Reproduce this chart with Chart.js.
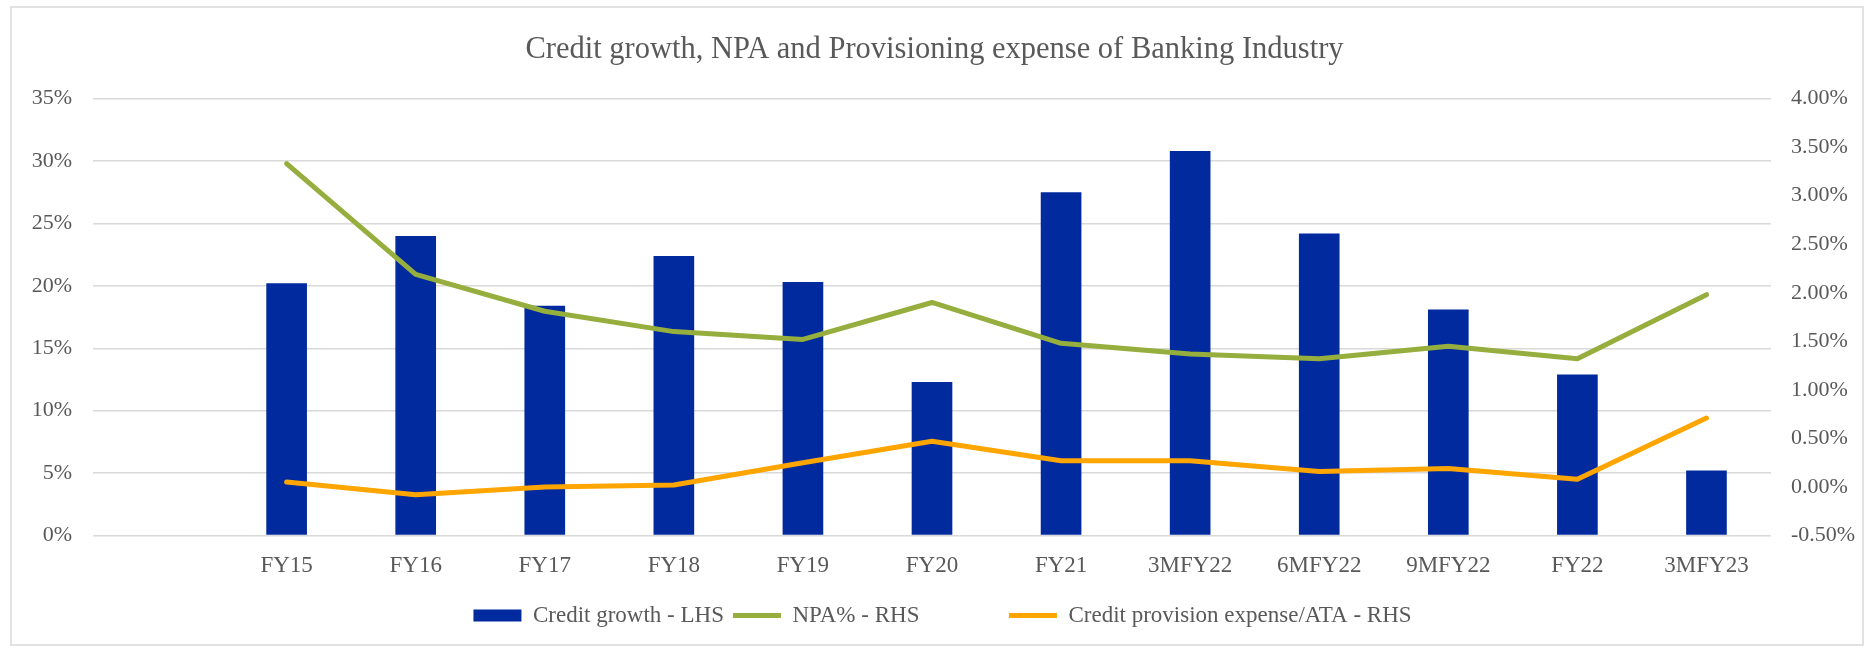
<!DOCTYPE html>
<html>
<head>
<meta charset="utf-8">
<title>Credit growth, NPA and Provisioning expense</title>
<script src="https://cdn.jsdelivr.net/npm/chart.js@4.4.1/dist/chart.umd.min.js"></script>
<style>
  html, body { margin: 0; padding: 0; background: #fff; }
  #wrap { position: relative; width: 1869px; height: 648px; }
</style>
</head>
<body>
<div id="wrap"><canvas id="bankChart" width="1869" height="648"></canvas></div>
<script>
// Categories (first slot is left empty on purpose)
const categories = ["", "FY15", "FY16", "FY17", "FY18", "FY19", "FY20", "FY21", "3MFY22", "6MFY22", "9MFY22", "FY22", "3MFY23"];

// Series, in percent
const creditGrowth = [null, 20.2, 24.0, 18.4, 22.4, 20.3, 12.3, 27.5, 30.8, 24.2, 18.1, 12.9, 5.2];
const npaRatio = [null, 3.33, 2.19, 1.81, 1.60, 1.52, 1.90, 1.48, 1.37, 1.32, 1.45, 1.32, 1.98];
const provisionExpense = [null, 0.05, -0.08, 0.00, 0.02, 0.25, 0.47, 0.27, 0.27, 0.16, 0.19, 0.08, 0.71];

// Axis ranges
const lhsTicks = [0, 5, 10, 15, 20, 25, 30, 35];
const rhsTicks = [-0.5, 0, 0.5, 1, 1.5, 2, 2.5, 3, 3.5, 4];

const textColor = "#595959";
const serif = "'Liberation Serif', 'Times New Roman', serif";

// Outer frame around the whole chart, legend nudged a little right
const framePlugin = {
    id: "frame",
    afterLayout(chart) {
        chart.legend.left += 8;
        chart.legend.right += 8;
    },
    beforeDraw(chart) {
        const ctx = chart.ctx;
        ctx.save();
        ctx.fillStyle = "#fff";
        ctx.fillRect(0, 0, chart.width, chart.height);
        ctx.strokeStyle = "#d9d9d9";
        ctx.lineWidth = 1.5;
        ctx.strokeRect(11, 7, 1852, 638);
        ctx.restore();
    }
};

// legend order: bars first, then the two lines
const legendRank = [1, 2, 0];

new Chart(document.getElementById("bankChart"), {
    type: "bar",
    data: {
        labels: categories,
        datasets: [
            {
                type: "line",
                label: "NPA% - RHS",
                data: npaRatio,
                yAxisID: "y1",
                borderColor: "#95AE3E",
                backgroundColor: "#95AE3E",
                borderWidth: 5,
                pointRadius: 0,
                borderCapStyle: "round",
                borderJoinStyle: "round",
                tension: 0
            },
            {
                type: "line",
                label: "Credit provision expense/ATA - RHS",
                data: provisionExpense,
                yAxisID: "y1",
                borderColor: "#FFA500",
                backgroundColor: "#FFA500",
                borderWidth: 5,
                pointRadius: 0,
                borderCapStyle: "round",
                borderJoinStyle: "round",
                tension: 0
            },
            {
                type: "bar",
                label: "Credit growth - LHS",
                data: creditGrowth,
                yAxisID: "y",
                backgroundColor: "#002A9E",
                borderWidth: 0,
                categoryPercentage: 1,
                barPercentage: 0.315
            }
        ]
    },
    options: {
        responsive: false,
        animation: false,
        layout: { padding: { top: 0, bottom: 11, left: 0, right: 0 } },
        plugins: {
            title: {
                display: true,
                text: "Credit growth, NPA and Provisioning expense of Banking Industry",
                color: textColor,
                font: { family: serif, size: 30.5, weight: "normal" },
                padding: { top: 32, bottom: 30 }
            },
            legend: {
                position: "bottom",
                labels: {
                    color: textColor,
                    font: { family: serif, size: 23 },
                    usePointStyle: true,
                    pointStyleWidth: 48,
                    boxHeight: 12,
                    padding: 9,
                    generateLabels(chart) {
                        return Chart.defaults.plugins.legend.labels.generateLabels(chart).map(item => ({
                            ...item,
                            // wider slot after the NPA entry
                            text: item.datasetIndex === 0 ? item.text + " ".repeat(14) : item.text,
                            pointStyle: item.datasetIndex === 2 ? "rect" : "line"
                        }));
                    },
                    sort: (a, b) => legendRank[a.datasetIndex] - legendRank[b.datasetIndex]
                }
            },
            tooltip: { enabled: false }
        },
        scales: {
            x: {
                grid: { display: false },
                border: { display: false },
                ticks: {
                    color: textColor,
                    font: { family: serif, size: 23 },
                    padding: 8.5,
                    maxRotation: 0,
                    autoSkip: false
                },
                afterFit(scale) { scale.height = 59.5; }
            },
            y: {
                position: "left",
                min: lhsTicks[0],
                max: lhsTicks[lhsTicks.length - 1],
                afterBuildTicks(scale) { scale.ticks = lhsTicks.map(v => ({ value: v })); },
                grid: { color: "#d9d9d9", lineWidth: 1.5, drawTicks: false },
                border: { display: false },
                ticks: {
                    color: textColor,
                    font: { family: serif, size: 22 },
                    padding: 21,
                    callback: v => v + "%"
                },
                afterFit(scale) { scale.width = 93; }
            },
            y1: {
                position: "right",
                min: rhsTicks[0],
                max: rhsTicks[rhsTicks.length - 1],
                afterBuildTicks(scale) { scale.ticks = rhsTicks.map(v => ({ value: v })); },
                grid: { display: false, drawTicks: false },
                border: { display: false },
                ticks: {
                    color: textColor,
                    font: { family: serif, size: 22 },
                    padding: 20,
                    callback: v => v.toFixed(2) + "%"
                },
                afterFit(scale) { scale.width = 98; }
            }
        }
    },
    plugins: [framePlugin]
});
</script>
</body>
</html>
